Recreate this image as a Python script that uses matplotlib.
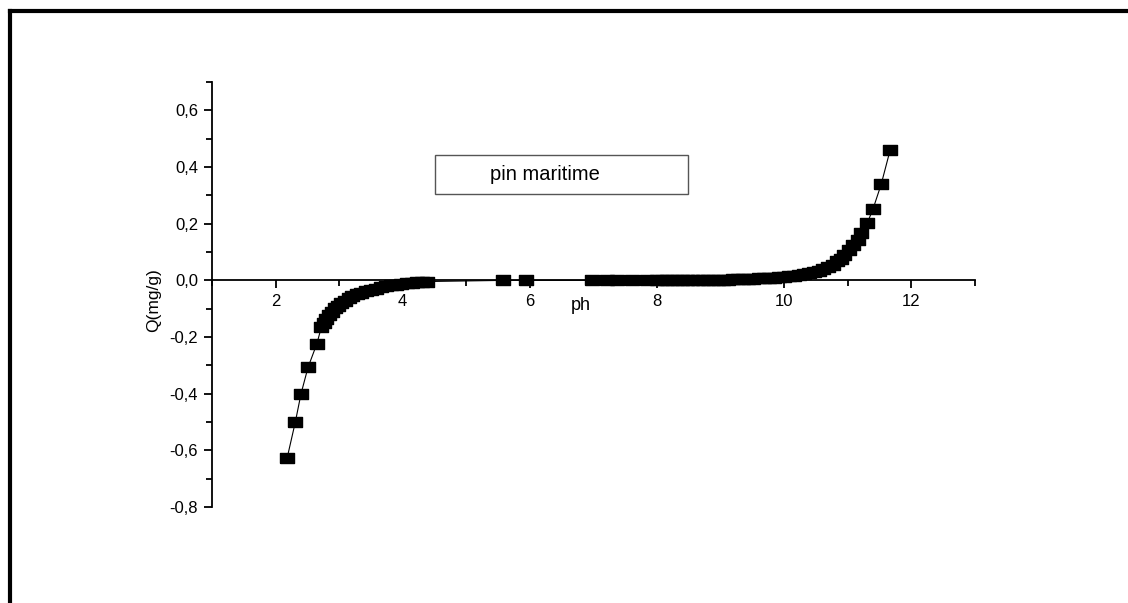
import numpy as np
import matplotlib
matplotlib.use('Agg')
import matplotlib.pyplot as plt
from matplotlib.lines import Line2D
from matplotlib.patches import Rectangle
from matplotlib.ticker import MultipleLocator, FuncFormatter

plt.rcParams['font.family'] = ['Liberation Sans', 'DejaVu Sans']

# pH values and adsorbed quantity Q (mg/g)
ph = [2.18, 2.31, 2.40, 2.51, 2.65, 2.72, 2.76, 2.80, 2.84, 2.88, 2.93, 2.98,
      3.03, 3.09, 3.15, 3.21, 3.28, 3.35, 3.42, 3.50, 3.58, 3.66, 3.74, 3.82,
      3.90, 3.98, 4.06, 4.14, 4.22, 4.30, 4.38,
      5.58, 5.94, 6.98, 7.21, 7.37, 7.61, 7.84,
      8.00, 8.08, 8.16, 8.24, 8.32, 8.40, 8.48, 8.56, 8.64, 8.72, 8.80, 8.88,
      8.96, 9.04, 9.12, 9.20, 9.28, 9.36, 9.44, 9.52, 9.60, 9.68, 9.76, 9.84,
      9.92, 10.00, 10.08, 10.16, 10.24, 10.32, 10.40, 10.47, 10.55, 10.62,
      10.70, 10.77, 10.84, 10.89, 10.95, 11.03, 11.09, 11.16, 11.21, 11.31,
      11.40, 11.53, 11.67]
q = [-0.628, -0.500, -0.400, -0.307, -0.223, -0.165, -0.150, -0.135, -0.122,
     -0.110, -0.099, -0.089, -0.080, -0.071, -0.063, -0.056, -0.049, -0.043,
     -0.038, -0.033, -0.029, -0.025, -0.021, -0.018, -0.015, -0.012, -0.010,
     -0.008, -0.006, -0.005, -0.004,
     0.000, 0.000, 0.000, 0.000, 0.000, 0.000, 0.000,
     0.000, 0.000, 0.000, 0.000, 0.001, 0.001, 0.001, 0.001, 0.001, 0.002,
     0.002, 0.002, 0.003, 0.003, 0.003, 0.004, 0.004, 0.005, 0.005, 0.006,
     0.007, 0.008, 0.009, 0.010, 0.011, 0.012, 0.014, 0.016, 0.018, 0.021,
     0.025, 0.029, 0.034, 0.040, 0.047, 0.056, 0.068, 0.076, 0.088, 0.106,
     0.124, 0.141, 0.167, 0.202, 0.251, 0.339, 0.459]

fig = plt.figure(figsize=(11.28, 6.03), dpi=100)
ax = fig.add_axes([0.188, 0.159, 0.676, 0.705])

# rectangular marker, a little wider than tall
rect = [(-1, -0.72), (1, -0.72), (1, 0.72), (-1, 0.72), (-1, -0.72)]
ax.plot(ph, q, color='black', lw=0.8, marker=rect, markersize=10,
        markerfacecolor='black', markeredgecolor='black')

ax.set_xlim(1, 13)
ax.set_ylim(-0.8, 0.7)

# x axis sits on y = 0, no frame on top/right
ax.spines['bottom'].set_position(('data', 0))
ax.spines['top'].set_visible(False)
ax.spines['right'].set_visible(False)
for s in ('left', 'bottom'):
    ax.spines[s].set_linewidth(1.3)

ax.xaxis.set_major_locator(MultipleLocator(2))
ax.xaxis.set_minor_locator(MultipleLocator(1))
ax.yaxis.set_major_locator(MultipleLocator(0.2))
ax.yaxis.set_minor_locator(MultipleLocator(0.1))
ax.set_xticks([2, 4, 6, 8, 10, 12])
ax.set_yticks([-0.8, -0.6, -0.4, -0.2, 0.0, 0.2, 0.4, 0.6])
ax.yaxis.set_major_formatter(FuncFormatter(lambda v, p: f'{v:.1f}'.replace('.', ',').replace('-0,0', '0,0')))
ax.xaxis.set_major_formatter(FuncFormatter(lambda v, p: f'{v:.0f}'))

ax.tick_params(which='major', direction='out', length=6, width=1.3, labelsize=12, pad=4)
ax.tick_params(which='minor', direction='out', length=4, width=1.3)

ax.text(6.8, -0.09, 'ph', ha='center', va='center', fontsize=13)
ax.text(-0.077, 0.487, 'Q(mg/g)', transform=ax.transAxes, rotation=90,
        ha='center', va='center', fontsize=12.5)

# legend box
ax.add_patch(Rectangle((0.292, 0.736), 0.332, 0.092, transform=ax.transAxes,
                       fill=False, edgecolor='#555555', lw=1.0))
ax.text(0.364, 0.782, 'pin maritime', transform=ax.transAxes,
        ha='left', va='center', fontsize=14.5)

# outer frame lines (top and left)
fig.add_artist(Line2D([0.0089, 1.0], [0.981, 0.981], transform=fig.transFigure,
                      color='black', lw=3))
fig.add_artist(Line2D([0.0089, 0.0089], [0.0, 0.981], transform=fig.transFigure,
                      color='black', lw=3))

fig.savefig('out.png', dpi=100)
